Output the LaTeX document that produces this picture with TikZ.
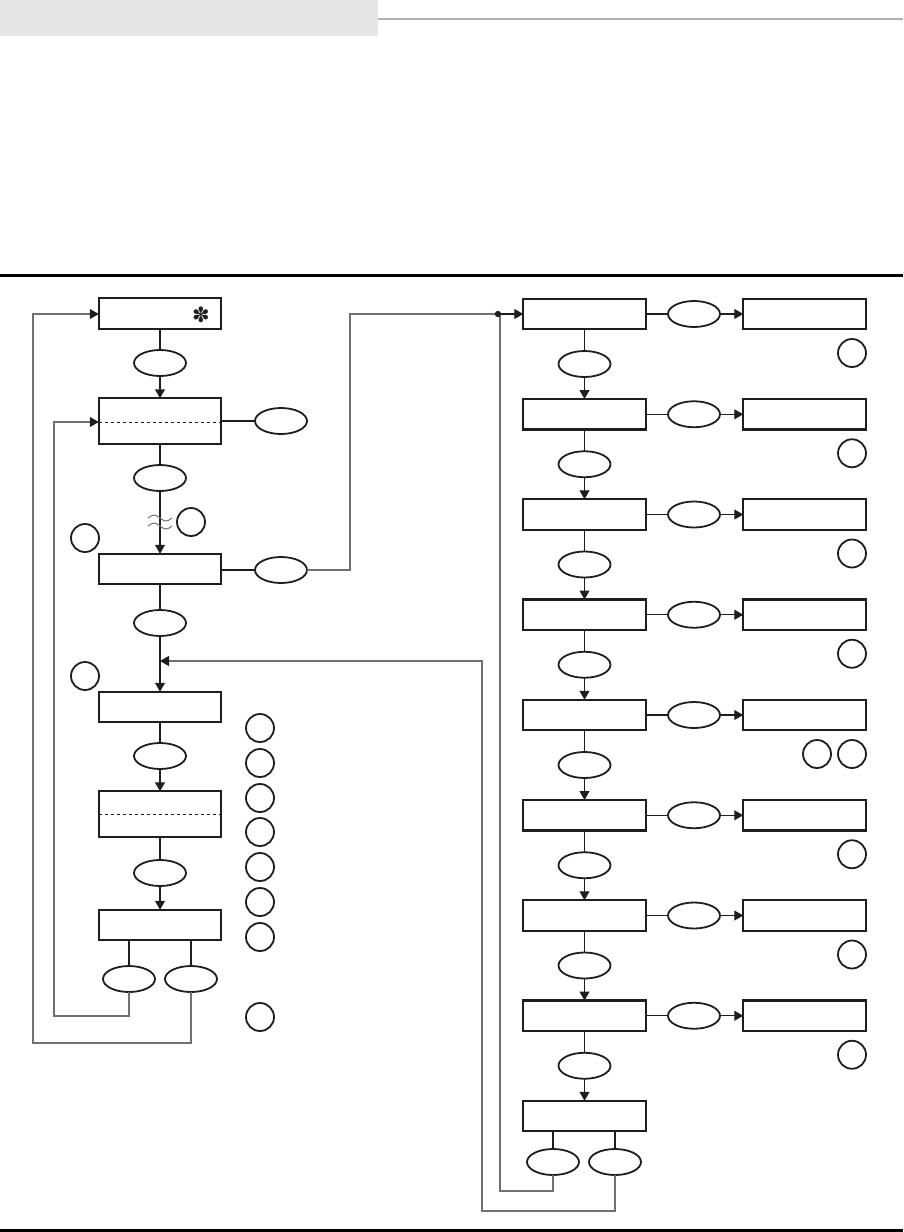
\documentclass[tikz,border=0pt]{standalone}
\usepackage{fontspec}
\newfontfamily\symfont{DejaVu Sans}
\usetikzlibrary{arrows.meta,calc,shapes.geometric}
\definecolor{hdrgray}{HTML}{E6E6E6}
\definecolor{rulegray}{HTML}{B0B0B0}
\definecolor{fbgray}{HTML}{707070}
\definecolor{ink}{HTML}{1E1E1E}
\tikzset{
  box/.style={draw=ink,line width=2.4pt,rectangle,inner sep=0pt,outer sep=0pt,minimum width=122.5pt,minimum height=30.5pt},
  tallbox/.style={box,minimum height=45.5pt},
  oval/.style={draw=ink,line width=1.8pt,ellipse,inner sep=0pt,outer sep=0pt,minimum width=52pt,minimum height=26pt},
  ring/.style={draw=ink,line width=1.8pt,circle,inner sep=0pt,outer sep=0pt,minimum size=28pt},
  conn/.style={draw=ink,line width=1.1pt},
  arr/.style={conn,-{Triangle[length=9pt,width=10pt]}},
  fb/.style={draw=fbgray,line width=1.1pt},
  fbarr/.style={fb,-{Triangle[length=9pt,width=10pt,color=ink]}},
}
\begin{document}
\begin{tikzpicture}[x=1pt,y=-1pt]
\useasboundingbox (0,0) rectangle (903,1232);
% header
\fill[hdrgray] (0,0) rectangle (378,36);
\draw[rulegray,line width=1.5pt] (378,19) -- (903,19);
\draw[black,line width=3pt] (0,275) -- (903,275);
\draw[black,line width=3pt] (0,1230.5) -- (903,1230.5);

% ---------- left column ----------
\node[box,minimum height=31.5pt] (b1) at (160,313.5) {};
\node[font=\symfont\fontsize{21}{21}\selectfont,text=ink,inner sep=0pt] (ast) at (201,315) {✽};
\node[oval] (e1) at (160,363) {};
\node[tallbox] (b2) at (160,421) {};
\draw[ink,dashed,line width=0.8pt] (b2.west |- 0,422) -- (b2.east |- 0,422);
\node[oval] (e2r) at (281,421) {};
\node[oval] (e2) at (160,478) {};
\node[ring] (ca) at (191,522) {};
\node[ring] (cb) at (85,538) {};
\node[box] (b3) at (160,569) {};
\node[oval] (e3r) at (281,570) {};
\node[oval] (e3) at (160,623) {};
\node[ring] (cc) at (85,676) {};
\node[box] (b4) at (160,707) {};
\node[oval] (e4) at (160,756) {};
\node[tallbox] (b5) at (160,814) {};
\draw[ink,dashed,line width=0.8pt] (b5.west) -- (b5.east);
\node[oval] (e5) at (160,873) {};
\node[box] (b6) at (160,925) {};
\node[oval] (e6a) at (129,979) {};
\node[oval] (e6b) at (191,979) {};
\foreach \y [count=\i] in {728,763,798,832,867,902,937,1017}
  \node[ring] (k\i) at (260,\y) {};

% left connectors
\draw[conn] (b1.south) -- (e1.north);
\draw[arr] (e1.south) -- (b2.north);
\draw[conn] (b2.east |- e2r.west) -- (e2r.west);
\draw[conn] (b2.south) -- (e2.north);
\draw[arr] (e2.south) -- (b3.north);
\draw[fbgray,line width=1pt] (148,518) sin (154,515) cos (160,518) sin (166,521) cos (172,518);
\draw[fbgray,line width=1pt] (148,526) sin (154,523) cos (160,526) sin (166,529) cos (172,526);
\draw[conn] (b3.east |- e3r.west) -- (e3r.west);
\draw[conn] (b3.south) -- (e3.north);
\coordinate (jn) at (160,661);
\draw[arr] (e3.south) -- (b4.north);
\draw[conn] (b4.south) -- (e4.north);
\draw[arr] (e4.south) -- (b5.north);
\draw[conn] (b5.south) -- (e5.north);
\draw[arr] (e5.south) -- (b6.north);
\draw[conn] (b6.south -| e6a) -- (e6a.north);
\draw[conn] (b6.south -| e6b) -- (e6b.north);
\draw[fbarr] (e6a.south) -- (129,1016) -- (54,1016) -- (54,422) -- (b2.west |- 0,422);
\draw[fbarr] (e6b.south) -- (191,1043) -- (33,1043) -- (33,314) -- (b1.west |- 0,314);

% ---------- right column ----------
\foreach \i in {0,...,8}{
  \pgfmathsetmacro{\yc}{314+100.25*\i}
  \node[box] (r\i) at (584.5,\yc) {};
}
\foreach \i in {0,...,7}{
  \pgfmathsetmacro{\yc}{314+100.25*\i}
  \node[oval] (h\i) at (694,\yc) {};
  \node[box] (s\i) at (804.5,\yc) {};
  \node[ring] (q\i) at (852,\yc+39) {};
  \node[oval] (v\i) at (584.5,\yc+50) {};
  \draw[conn] (r\i.east) -- (h\i.west);
  \draw[arr] (h\i.east) -- (s\i.west);
}
\node[ring] (q4b) at (817,{314+100.25*4+39}) {};
\foreach \i [evaluate=\i as \j using int(\i+1)] in {0,...,7}{
  \draw[conn] (r\i.south) -- (v\i.north);
  \draw[arr] (v\i.south) -- (r\j.north);
}
\node[oval] (ea) at (553,1162) {};
\node[oval] (eb) at (615,1162) {};
\draw[conn] (r8.south -| ea) -- (ea.north);
\draw[conn] (r8.south -| eb) -- (eb.north);

% feedback to right column top
\coordinate (dot) at (498,314);
\draw[fb] (e3r.east) -- (350,570) -- (350,314) -- (dot);
\draw[fb] (ea.south) -- (553,1191) -- (500,1191) -- (500,314) -- (dot);
\fill[ink] (dot) circle (3.2pt);
\draw[arr] (dot) ++(3,0) -- (r0.west);
\draw[fbarr] (eb.south) -- (615,1211) -- (482,1211) -- (482,661) -- (jn);
\end{tikzpicture}
\end{document}
